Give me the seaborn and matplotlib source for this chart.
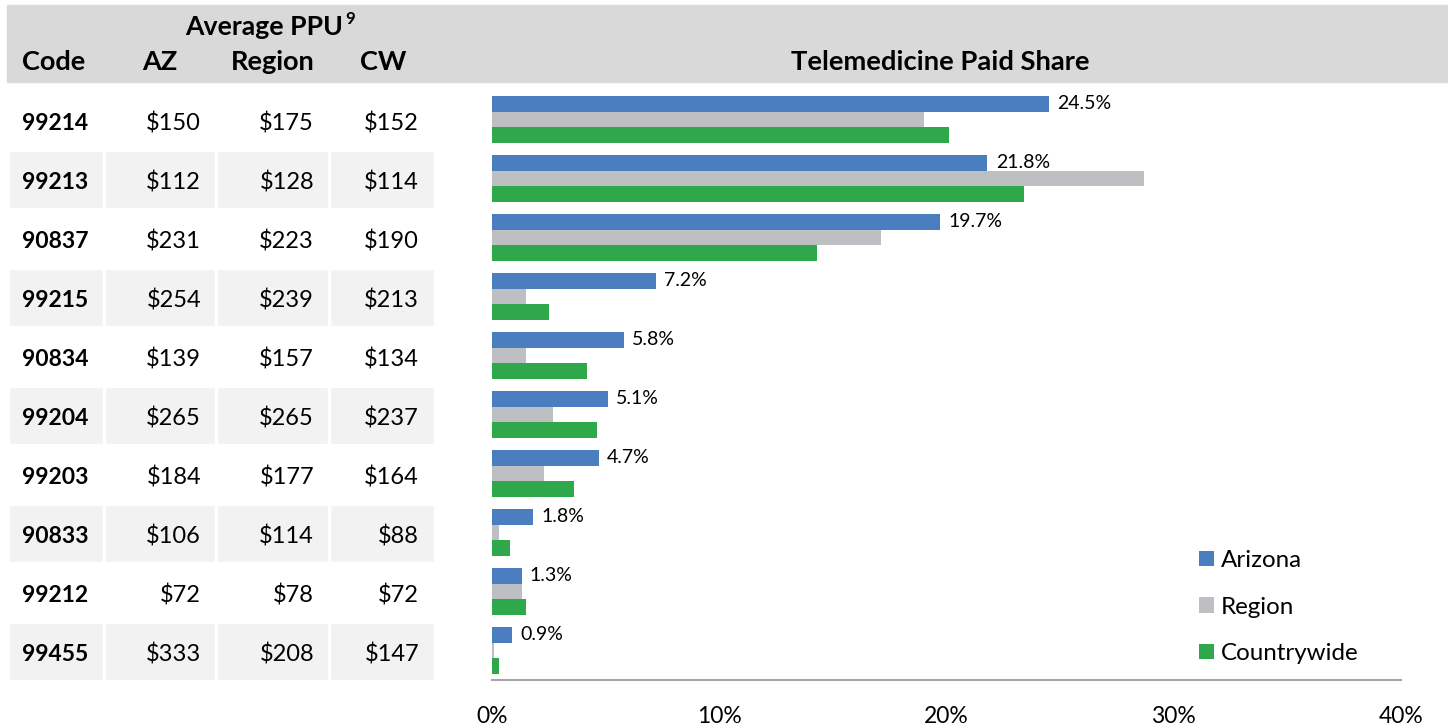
import pandas as pd
import numpy as np
import seaborn as sns
import matplotlib.pyplot as plt
from matplotlib.ticker import FuncFormatter

# Data
codes = ["99214", "99213", "90837", "99215", "90834", "99204", "99203", "90833", "99212", "99455"]
ppu_az = [150, 112, 231, 254, 139, 265, 184, 106, 72, 333]
ppu_region = [175, 128, 223, 239, 157, 265, 177, 114, 78, 208]
ppu_cw = [152, 114, 190, 213, 134, 237, 164, 88, 72, 147]

share_arizona = [24.5, 21.8, 19.7, 7.2, 5.8, 5.1, 4.7, 1.8, 1.3, 0.9]
share_region = [19.0, 28.7, 17.1, 1.5, 1.5, 2.7, 2.3, 0.3, 1.3, 0.1]
share_countrywide = [20.1, 23.4, 14.3, 2.5, 4.2, 4.6, 3.6, 0.8, 1.5, 0.3]

series_names = ["Arizona", "Region", "Countrywide"]
colors = ["#4A7EC1", "#BEBFC3", "#2EA84A"]

# Long-form table for seaborn
df = pd.DataFrame({
    "code": codes * 3,
    "share": share_arizona + share_region + share_countrywide,
    "series": np.repeat(series_names, len(codes)),
})

sns.set_style("white")
plt.rcParams["font.family"] = ["Lato", "DejaVu Sans"]
plt.rcParams["text.color"] = "black"
plt.rcParams["xtick.color"] = "black"

W, H = 1448, 728
fig = plt.figure(figsize=(W / 100, H / 100), dpi=100)

# gray header band
fig.add_artist(plt.Rectangle((7 / W, 1 - 82 / H), 1 - 7 / W, 77 / H,
                             transform=fig.transFigure, color="#D9D9D9", zorder=0))

ax_bottom = 1 - 680 / H
ax_height = (680 - 90) / H

# --- bar chart ---
ax = fig.add_axes([492 / W, ax_bottom, (1401 - 492) / W, ax_height])
sns.barplot(data=df, x="share", y="code", hue="series", order=codes,
            hue_order=series_names, palette=colors, orient="h",
            saturation=1, width=0.8, linewidth=0, ax=ax)
ax.set_xlim(0, 40)
ax.set_ylim(9.5, -0.5)
ax.set_xticks([0, 10, 20, 30, 40])
ax.xaxis.set_major_formatter(FuncFormatter(lambda v, p: f"{v:.0f}%"))
ax.tick_params(axis="x", length=0, pad=19, labelsize=16.5, labelcolor="black")
ax.set_yticks([])
ax.set_xlabel("")
ax.set_ylabel("")
for s in ["top", "right", "left"]:
    ax.spines[s].set_visible(False)
ax.spines["bottom"].set_color("#A6A6A6")
ax.spines["bottom"].set_linewidth(1.5)

ax.bar_label(ax.containers[0], labels=[f"{v:.1f}%" for v in share_arizona],
             padding=6, fontsize=14, color="black")

ax.legend(loc="center left", bbox_to_anchor=(1187 / W, 1 - 607 / H),
          bbox_transform=fig.transFigure, frameon=False, fontsize=17.4,
          handlelength=0.6, handleheight=0.6, handletextpad=0.3,
          labelspacing=1.05, borderpad=0)

fig.text(940 / W, 1 - 62 / H, "Telemedicine Paid Share", ha="center", va="center",
         fontsize=19.7, fontweight="bold")

# --- table on the left ---
ax_t = fig.add_axes([0, ax_bottom, 440 / W, ax_height])
ax_t.set_xlim(0, 440)
ax_t.set_ylim(9.5, -0.5)
ax_t.axis("off")

cells = [(9, 103), (105, 215), (217, 328), (330, 434)]
dy = 0.07
for i in range(len(codes)):
    if i % 2 == 1:
        for x0, x1 in cells:
            ax_t.barh(i + 0.02, x1 - x0, left=x0, height=0.965, color="#F2F2F2")
    ax_t.text(22, i + dy, codes[i], ha="left", va="center", fontsize=16.5, fontweight="bold")
    ax_t.text(201, i + dy, f"${ppu_az[i]}", ha="right", va="center", fontsize=17)
    ax_t.text(314, i + dy, f"${ppu_region[i]}", ha="right", va="center", fontsize=17)
    ax_t.text(419, i + dy, f"${ppu_cw[i]}", ha="right", va="center", fontsize=17)

hdr_y = 1 - 62 / H
fig.text(22 / W, hdr_y, "Code", ha="left", va="center", fontsize=19.5, fontweight="bold")
fig.text(160 / W, hdr_y, "AZ", ha="center", va="center", fontsize=19.5, fontweight="bold")
fig.text(273 / W, hdr_y, "Region", ha="center", va="center", fontsize=19.5, fontweight="bold")
fig.text(383 / W, hdr_y, "CW", ha="center", va="center", fontsize=19.5, fontweight="bold")
fig.text(343 / W, 1 - 27 / H, "Average PPU", ha="right", va="center", fontsize=19.2, fontweight="bold")
fig.text(345 / W, 1 - 19 / H, "9", ha="left", va="center", fontsize=12, fontweight="bold")

fig.savefig("out.png", dpi=100)
